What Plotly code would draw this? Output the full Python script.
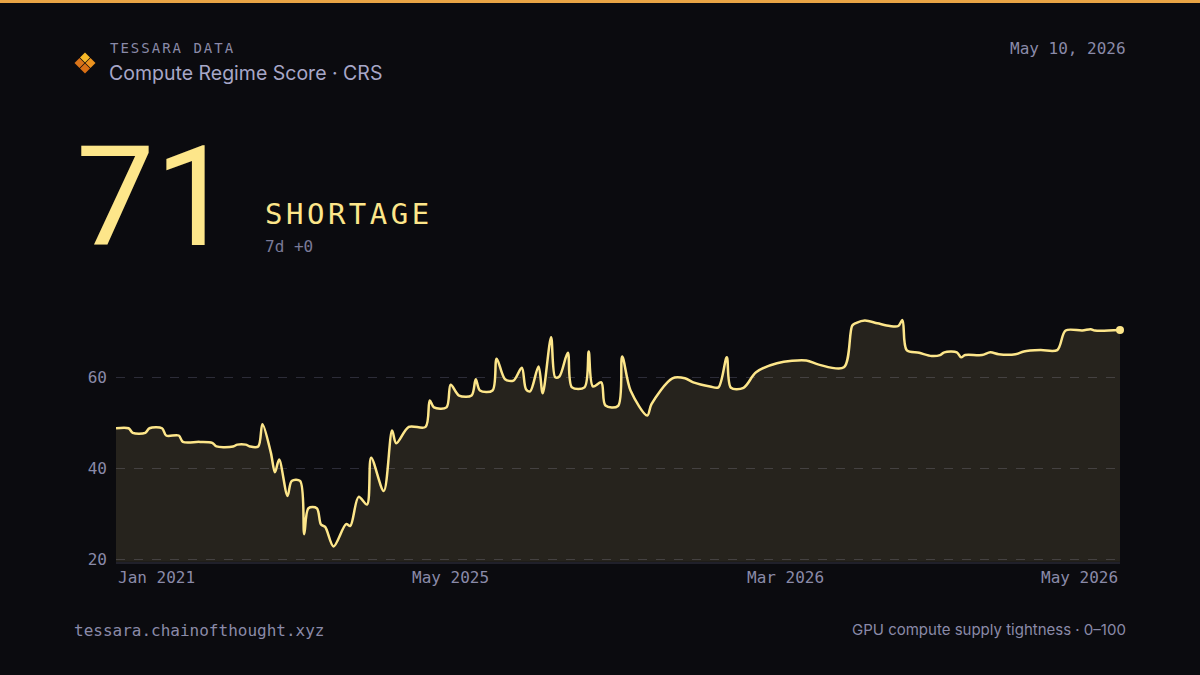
import plotly.graph_objects as go

# CRS readings, position on the sequence axis (0-240) and score
obs = [0, 3, 4, 7, 8, 11, 12, 15, 16, 20, 23, 24, 28, 29, 31, 32, 34, 35, 37, 38,
       39, 41, 42, 44, 45, 46, 48, 49, 50, 52, 55, 56, 58, 60, 61, 64, 66, 67, 70, 74,
       75, 76, 79, 80, 82, 85, 86, 87, 90, 91, 93, 95, 97, 98, 99, 101, 102, 104, 105, 106,
       108, 109, 112, 113, 114, 116, 117, 120, 121, 123, 127, 128, 133, 136, 138, 142, 144, 146, 147, 150,
       153, 158, 165, 168, 174, 176, 177, 179, 182, 185, 187, 188, 189, 192, 195, 197, 198, 201, 202, 203,
       207, 209, 211, 215, 217, 221, 225, 227, 231, 233, 234, 240]
crs = [48.8, 48.8, 47.8, 47.8, 48.8, 48.8, 47.2, 47.2, 45.8, 45.8, 45.6, 44.8, 44.8, 45.2, 45.2, 44.8, 44.8, 49.7, 43.5, 39.1,
       41.9, 33.9, 37.2, 37.2, 25.5, 31.2, 31.2, 27.6, 27.1, 22.8, 27.7, 27.3, 33.7, 32.0, 42.3, 35.0, 48.3, 45.5, 49.1, 49.1,
       54.9, 53.4, 53.4, 58.4, 56.0, 56.0, 59.6, 57.1, 57.1, 64.1, 59.6, 59.3, 62.1, 57.4, 56.9, 62.4, 56.5, 68.8, 60.0, 60.2,
       65.4, 57.8, 57.8, 65.7, 58.0, 58.9, 53.8, 53.7, 64.6, 57.1, 51.6, 54.1, 59.8, 59.8, 58.9, 58.0, 57.8, 64.4, 57.7, 57.7,
       61.1, 63.1, 63.7, 62.8, 62.2, 71.4, 72.0, 72.5, 71.9, 71.3, 71.3, 72.6, 66.0, 65.4, 64.7, 64.9, 65.5, 65.5, 64.4, 64.9,
       64.9, 65.5, 65.1, 65.1, 65.7, 66.0, 66.0, 70.3, 70.3, 70.6, 70.3, 70.4]

tick_pos = [0, 80, 160, 240]
tick_text = ["Jan 2021", "May 2025", "Mar 2026", "May 2026"]
y_ticks = [20, 40, 60]

score = "71"
regime = "SHORTAGE"
change = "7d +0"

BG = "#0b0b0f"
GOLD = "#fde68a"
MUTED = "#8a8aa8"
MONO = "DejaVu Sans Mono, Liberation Mono, monospace"
SANS = "Inter, Roboto, sans-serif"

W, H = 1200, 675
H_POS = 667  # the page comes out slightly squeezed vertically, so place things on this scale

def fx(px):
    return px / W
def fy(py):
    return 1 - py / H_POS

fig = go.Figure()

fig.add_trace(go.Scatter(
    x=obs,
    y=crs,
    mode="lines",
    line=dict(color=GOLD, width=2.5, shape="spline", smoothing=0.9),
    fill="tozeroy",
    fillcolor="rgba(253,230,138,0.115)",
    hoverinfo="skip",
    showlegend=False
))

# end point marker
fig.add_trace(go.Scatter(
    x=[obs[-1]],
    y=[crs[-1]],
    mode="markers",
    marker=dict(color=GOLD, size=8),
    cliponaxis=False,
    showlegend=False
))

annotations = []

# x tick labels (first / last pinned to plot edges)
for i, (p, t) in enumerate(zip(tick_pos, tick_text)):
    anchor = "left" if i == 0 else ("right" if i == len(tick_pos) - 1 else "center")
    annotations.append(dict(
        x=p, y=fy(577), xref="x", yref="paper", text=t, showarrow=False,
        xanchor=anchor, yanchor="middle",
        font=dict(family=MONO, size=16, color=MUTED)
    ))

annotations += [
    dict(x=fx(108), y=fy(48), text='<span style="letter-spacing:2px">TESSARA DATA</span>',
         xanchor="left", yanchor="middle",
         font=dict(family=MONO, size=14, color=MUTED)),
    dict(x=fx(107), y=fy(73), text="Compute Regime Score · CRS", xanchor="left", yanchor="middle",
         font=dict(family=SANS, size=19.5, color="#a7a7c8")),
    dict(x=fx(1128), y=fy(48), text="May 10, 2026", xanchor="right", yanchor="middle",
         font=dict(family=MONO, size=16, color=MUTED)),
    dict(x=fx(74), y=fy(197), text=score, xanchor="left", yanchor="middle",
         font=dict(family="Roboto", size=140, color=GOLD, weight=400)),
    dict(x=fx(263), y=fy(214), text='<span style="letter-spacing:3.5px">SHORTAGE</span>',
         xanchor="left", yanchor="middle",
         font=dict(family=MONO, size=29, color=GOLD)),
    dict(x=fx(263), y=fy(246), text=change, xanchor="left", yanchor="middle",
         font=dict(family=MONO, size=16, color="#7a7a98")),
    dict(x=fx(72), y=fy(630), text="tessara.chainofthought.xyz", xanchor="left", yanchor="middle",
         font=dict(family=MONO, size=16, color=MUTED)),
    dict(x=fx(1128), y=fy(629), text="GPU compute supply tightness · 0–100", xanchor="right", yanchor="middle",
         font=dict(family=SANS, size=15, color=MUTED)),
]
for a in annotations:
    a.setdefault("xref", "paper")
    a.setdefault("yref", "paper")
    a["showarrow"] = False

shapes = [
    # top accent bar
    dict(type="rect", xref="paper", yref="paper", x0=0, x1=1, y0=fy(3), y1=1,
         fillcolor="#e9a445", line=dict(width=0)),
]

# logo: four small diamonds
def diamond(cx, cy, r, color):
    path = (f"M {fx(cx)} {fy(cy - r)} L {fx(cx + r)} {fy(cy)} "
            f"L {fx(cx)} {fy(cy + r)} L {fx(cx - r)} {fy(cy)} Z")
    return dict(type="path", xref="paper", yref="paper", path=path,
                fillcolor=color, line=dict(width=0))

shapes += [
    diamond(85, 57.5, 5, "#f7b928"),
    diamond(79.5, 63, 5, "#d9741a"),
    diamond(90.5, 63, 5, "#ec931f"),
    diamond(85, 68.5, 5, "#d86f14"),
]

fig.update_layout(
    width=W,
    height=H,
    autosize=False,
    paper_bgcolor=BG,
    plot_bgcolor=BG,
    margin=dict(l=0, r=0, t=0, b=0),
    showlegend=False,
    xaxis=dict(
        domain=[fx(116), fx(1120)],
        range=[0, 240],
        showgrid=False,
        zeroline=False,
        showticklabels=False,
        showline=True,
        linecolor="#20202a",
        linewidth=2,
        fixedrange=True
    ),
    yaxis=dict(
        domain=[fy(561), fy(311)],
        range=[19.4, 74.5],
        tickvals=y_ticks,
        ticktext=[str(v) for v in y_ticks],
        tickfont=dict(family=MONO, size=16, color=MUTED),
        ticks="",
        ticklabelstandoff=8,
        showgrid=True,
        gridcolor="#2c2c38",
        griddash="dash",
        gridwidth=1,
        zeroline=False,
        showline=False,
        fixedrange=True
    ),
    annotations=annotations,
    shapes=shapes
)

fig.write_html("out.html", config={"displayModeBar": False},
               post_script="document.body.style.margin='0';")
